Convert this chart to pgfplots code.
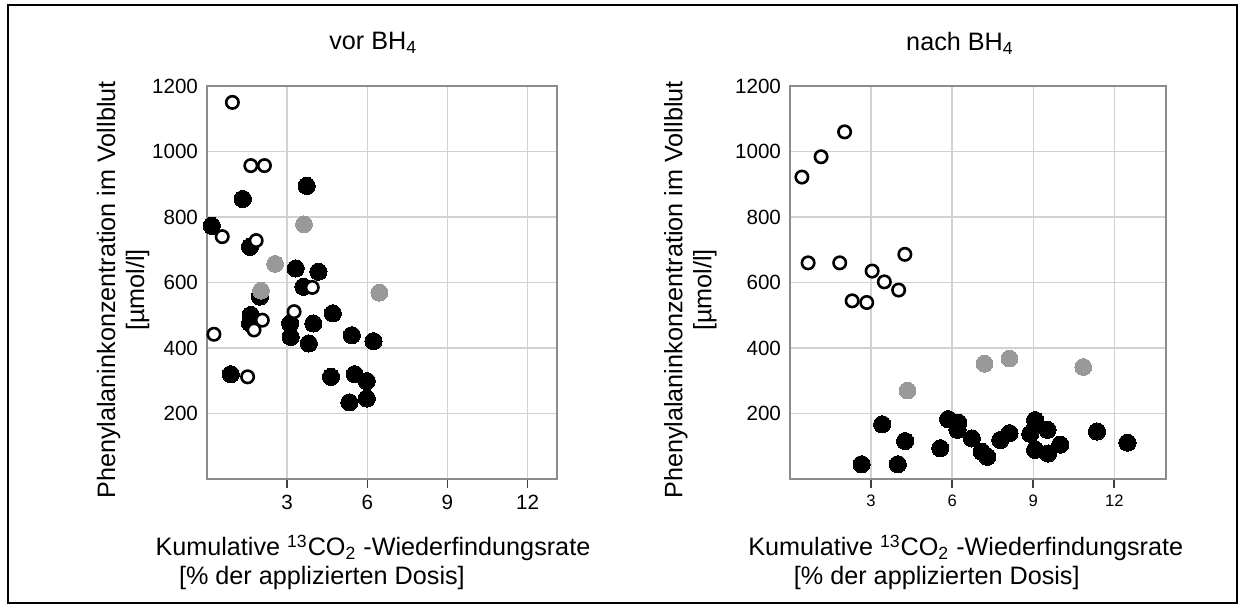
\documentclass[border=0pt]{standalone}
\usepackage{fontspec}
\setmainfont{Liberation Sans}
\usepackage{pgfplots}
\pgfplotsset{compat=1.18}

\definecolor{axgray}{gray}{0.55}
\definecolor{gridgray}{gray}{0.82}
\definecolor{ptgray}{gray}{0.6}

% data
\pgfplotstableread{
x y
0.18 773
1.34 855
3.73 895
1.61 709
3.32 643
4.17 633
3.61 587
1.98 557
1.64 501
1.61 476
3.11 475
3.13 434
3.98 475
4.71 506
3.81 414
5.42 439
6.23 421
0.89 320
4.64 312
5.53 320
5.98 299
5.33 234
5.98 246
}\vorblack
\pgfplotstableread{
x y
0.95 1150
1.64 957
2.15 957
0.57 740
1.84 728
3.94 585
3.26 511
2.07 485
1.76 455
0.26 442
1.52 312
}\voropen
\pgfplotstableread{
x y
3.63 778
2.55 657
2.02 575
6.45 569
}\vorgray
\pgfplotstableread{
x y
2.65 45
3.41 167
3.99 45
4.26 116
5.56 94
5.85 183
6.23 172
6.20 150
6.73 124
7.10 83
7.30 68
7.78 119
8.12 140
8.89 138
9.07 180
9.07 89
9.53 150
9.55 78
10.00 105
11.36 145
12.49 111
}\nachblack
\pgfplotstableread{
x y
0.44 922
1.15 984
2.02 1060
0.67 660
1.84 660
3.04 635
4.25 686
3.49 602
4.02 577
2.30 544
2.84 539
}\nachopen
\pgfplotstableread{
x y
4.35 270
7.20 352
8.12 368
10.85 342
}\nachgray

\pgfplotsset{
  phe/.style={
    scale only axis,
    height=196.5pt,
    ymin=0, ymax=1200,
    xmin=0,
    xtick={3,6,9,12},
    ytick={200,400,...,1200},
    xtick pos=bottom,
    grid=major,
    major grid style={gridgray, line width=0.7pt},
    axis line style={axgray, line width=1pt},
    tick align=outside,
    major tick length=4.5pt,
    xtick style={black!75, line width=0.8pt},
    ytick style={draw=none},
    /pgf/number format/assume math mode=true,
    /pgf/number format/1000 sep={},
    tick label style={font=\fontsize{10.3}{12}\selectfont},
    yticklabel style={xshift=3.5pt},
    label style={font=\fontsize{12.6}{14.5}\selectfont, align=center},
    title style={font=\fontsize{12.6}{14}\selectfont, anchor=center},
    clip=false,
  },
  blk/.style={only marks, mark=*, mark size=4.3pt,
    mark options={fill=black, draw=black, line width=0pt}},
  opn/.style={only marks, mark=*, mark size=3.1pt,
    mark options={fill=white, draw=black, line width=1.3pt}},
  gry/.style={only marks, mark=*, mark size=4.2pt,
    mark options={fill=ptgray, draw=ptgray, line width=0pt}},
}

\begin{document}
\begin{tikzpicture}
\useasboundingbox (0,0) rectangle (622.5pt,-303.5pt);
\draw[line width=1.25pt] (4pt,-2.5pt) rectangle (618.5pt,-301.5pt);

\begin{axis}[phe,
  at={(103.5pt,-239.5pt)}, anchor=south west,
  width=175pt, xmax=13.1,
  title={vor BH\textsubscript{4}},
  title style={at={(axis description cs:0.475,1.079)}},
  xlabel={Kumulative \textsuperscript{13}CO\textsubscript{2} -Wiederfindungsrate\\{}[\% der applizierten Dosis]\hspace*{51pt}},
  xlabel style={at={(axis description cs:0.474,-0.2125)}, anchor=center},
  ylabel={Phenylalaninkonzentration im Vollblut\\{}[µmol/l]},
  ylabel style={at={(axis description cs:-0.24,0.481)}, anchor=center},
]
\addplot[blk] table {\vorblack};
\addplot[opn] table {\voropen};
\addplot[gry] table {\vorgray};
\end{axis}

\begin{axis}[phe,
  at={(395pt,-239.5pt)}, anchor=south west,
  width=187.8pt, xmax=13.9,
  xticklabel style={font=\fontsize{8.3}{9}\selectfont},
  title={nach BH\textsubscript{4}},
  title style={at={(axis description cs:0.4525,1.079)}},
  xlabel={Kumulative \textsuperscript{13}CO\textsubscript{2} -Wiederfindungsrate\\{}[\% der applizierten Dosis]\hspace*{29pt}},
  xlabel style={at={(axis description cs:0.468,-0.2125)}, anchor=center},
  ylabel={Phenylalaninkonzentration im Vollblut\\{}[µmol/l]},
  ylabel style={at={(axis description cs:-0.265,0.481)}, anchor=center},
]
\addplot[blk] table {\nachblack};
\addplot[opn] table {\nachopen};
\addplot[gry] table {\nachgray};
\end{axis}
\end{tikzpicture}
\end{document}
